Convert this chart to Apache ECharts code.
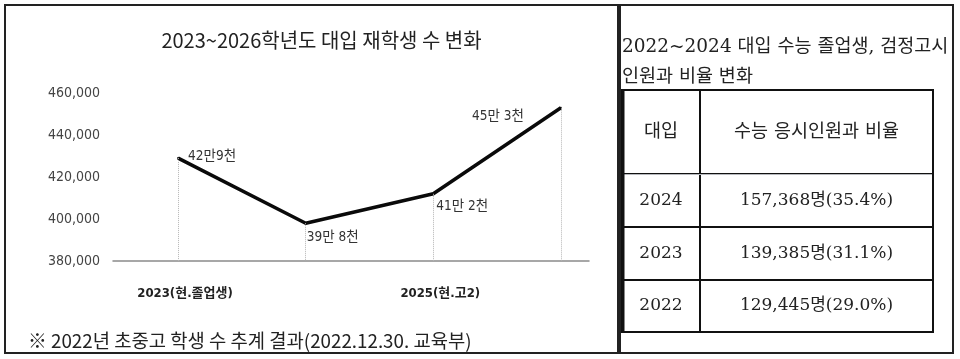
<!DOCTYPE html>
<html>
<head>
<meta charset="utf-8">
<script src="https://cdn.jsdelivr.net/npm/echarts@6/dist/echarts.min.js"></script>
<style>
html,body{margin:0;padding:0;background:#fff;}
#main{width:960px;height:359px;}
</style>
</head>
<body>
<div id="main"></div>
<script>
// ---- data ----
const chartTitle = '2023~2026학년도 대입 재학생 수 변화';
const years = [2023, 2024, 2025, 2026];
const students = [429000, 398000, 412000, 453000];
const pointLabels = ['42만9천', '39만 8천', '41만 2천', '45만 3천'];
const xLabelYears = [2023, 2025];
const xLabelTexts = ['2023(현.졸업생)', '2025(현.고2)'];
const yMin = 380000, yMax = 460000, yStep = 20000;
const footnote = '※ 2022년 초중고 학생 수 추계 결과(2022.12.30. 교육부)';

const tableTitle = ['2022~2024 대입 수능 졸업생, 검정고시', '인원과 비율 변화'];
const tableColumns = ['대입', '수능 응시인원과 비율'];
const tableYears = ['2024', '2023', '2022'];
const tableCounts = [157368, 139385, 129445];
const tableRatios = [35.4, 31.1, 29.0];

// ---- styles ----
const narrow = "'Liberation Sans Narrow', 'DejaVu Sans Condensed', 'Noto Sans CJK KR', sans-serif";
const serif = "'DejaVu Serif', 'Noto Sans CJK KR', serif";
const labelStyles = [
  {position: 'right', offset: [4, -2]},
  {position: 'right', offset: [-5, 14]},
  {position: 'right', offset: [-3, 13]},
  {position: 'left', offset: [-31, 9]}
];

const chart = echarts.init(document.getElementById('main'), null, {renderer: 'canvas'});

const lineData = years.map((y, i) => ({
  value: [y, students[i]],
  label: Object.assign({show: true, formatter: pointLabels[i]}, labelStyles[i])
}));
const dropLines = years.map((y, i) => [{coord: [y, students[i]]}, {coord: [y, yMin]}]);

const fmtNum = v => Number(v).toLocaleString('en-US');

const bodyCells = [];
tableYears.forEach((yr, r) => {
  bodyCells.push({coord: [0, r], value: yr});
  bodyCells.push({coord: [1, r], value: fmtNum(tableCounts[r]) + '명(' + tableRatios[r].toFixed(1) + '%)'});
});

const option = {
  animation: false,
  backgroundColor: '#fff',
  grid: {left: 113, right: 371, top: 93, bottom: 98},
  xAxis: {
    type: 'value',
    min: 2022.49,
    max: 2026.22,
    axisLine: {show: true, onZero: false, lineStyle: {color: '#8a8a8a', width: 1.5}},
    axisTick: {show: false},
    splitLine: {show: false},
    axisLabel: {
      customValues: xLabelYears,
      formatter: v => xLabelTexts[xLabelYears.indexOf(Math.round(v))] || '',
      fontFamily: narrow, fontWeight: 'bold', fontSize: 13, color: '#222',
      margin: 26, padding: [0, 0, 0, 14]
    }
  },
  yAxis: {
    type: 'value',
    min: yMin, max: yMax, interval: yStep,
    axisLine: {show: false},
    axisTick: {show: false},
    splitLine: {show: false},
    axisLabel: {formatter: v => fmtNum(v), fontFamily: narrow, fontSize: 14, color: '#444', margin: 13}
  },
  series: [{
    type: 'line',
    data: lineData,
    symbol: 'circle',
    symbolSize: 2,
    showSymbol: true,
    itemStyle: {color: '#0a0a0a'},
    lineStyle: {color: '#0a0a0a', width: 3.5},
    label: {fontFamily: narrow, fontSize: 13.5, color: '#333', distance: 5},
    markLine: {
      silent: true,
      symbol: ['none', 'none'],
      label: {show: false},
      lineStyle: {type: 'dotted', color: '#b5b5b5', width: 1},
      data: dropLines
    },
    z: 3
  }],
  matrix: {
    left: 622, top: 90, width: 311, height: 242,
    x: {
      show: true,
      levelSize: 84,
      data: [{value: tableColumns[0], size: 78}, {value: tableColumns[1]}],
      itemStyle: {color: '#fff', borderColor: '#111', borderWidth: 2},
      label: {fontFamily: serif, fontSize: 18.5, color: '#222'}
    },
    y: {
      show: false,
      data: tableYears
    },
    body: {
      data: bodyCells,
      itemStyle: {color: '#fff', borderColor: '#111', borderWidth: 2},
      label: {show: true, fontFamily: serif, fontSize: 17, color: '#222'}
    },
    backgroundStyle: {color: '#fff', borderColor: '#111', borderWidth: 2}
  },
  graphic: [
    {type: 'rect', shape: {x: 5, y: 5, width: 613, height: 348}, style: {fill: 'none', stroke: '#222', lineWidth: 2}, z: -1},
    {type: 'rect', shape: {x: 620, y: 5, width: 333, height: 348}, style: {fill: 'none', stroke: '#222', lineWidth: 2}, z: -1},
    {type: 'line', shape: {x1: 623, y1: 89, x2: 623, y2: 333}, style: {stroke: '#111', lineWidth: 3}, z: 100},
    {type: 'text', x: 321.5, y: 40, style: {text: chartTitle, font: "20px 'Noto Sans CJK KR', sans-serif", fill: '#222', textAlign: 'center', textVerticalAlign: 'middle'}},
    {type: 'text', x: 28, y: 341, style: {text: footnote, font: "18.8px 'Noto Sans CJK KR', sans-serif", fill: '#222', textAlign: 'left', textVerticalAlign: 'middle'}},
    {type: 'text', x: 622, y: 47, style: {text: tableTitle[0], font: "18.5px 'DejaVu Serif', 'Noto Sans CJK KR', serif", fill: '#222', textAlign: 'left', textVerticalAlign: 'middle'}},
    {type: 'text', x: 622, y: 77, style: {text: tableTitle[1], font: "18.5px 'DejaVu Serif', 'Noto Sans CJK KR', serif", fill: '#222', textAlign: 'left', textVerticalAlign: 'middle'}}
  ]
};
chart.setOption(option);
</script>
</body>
</html>
